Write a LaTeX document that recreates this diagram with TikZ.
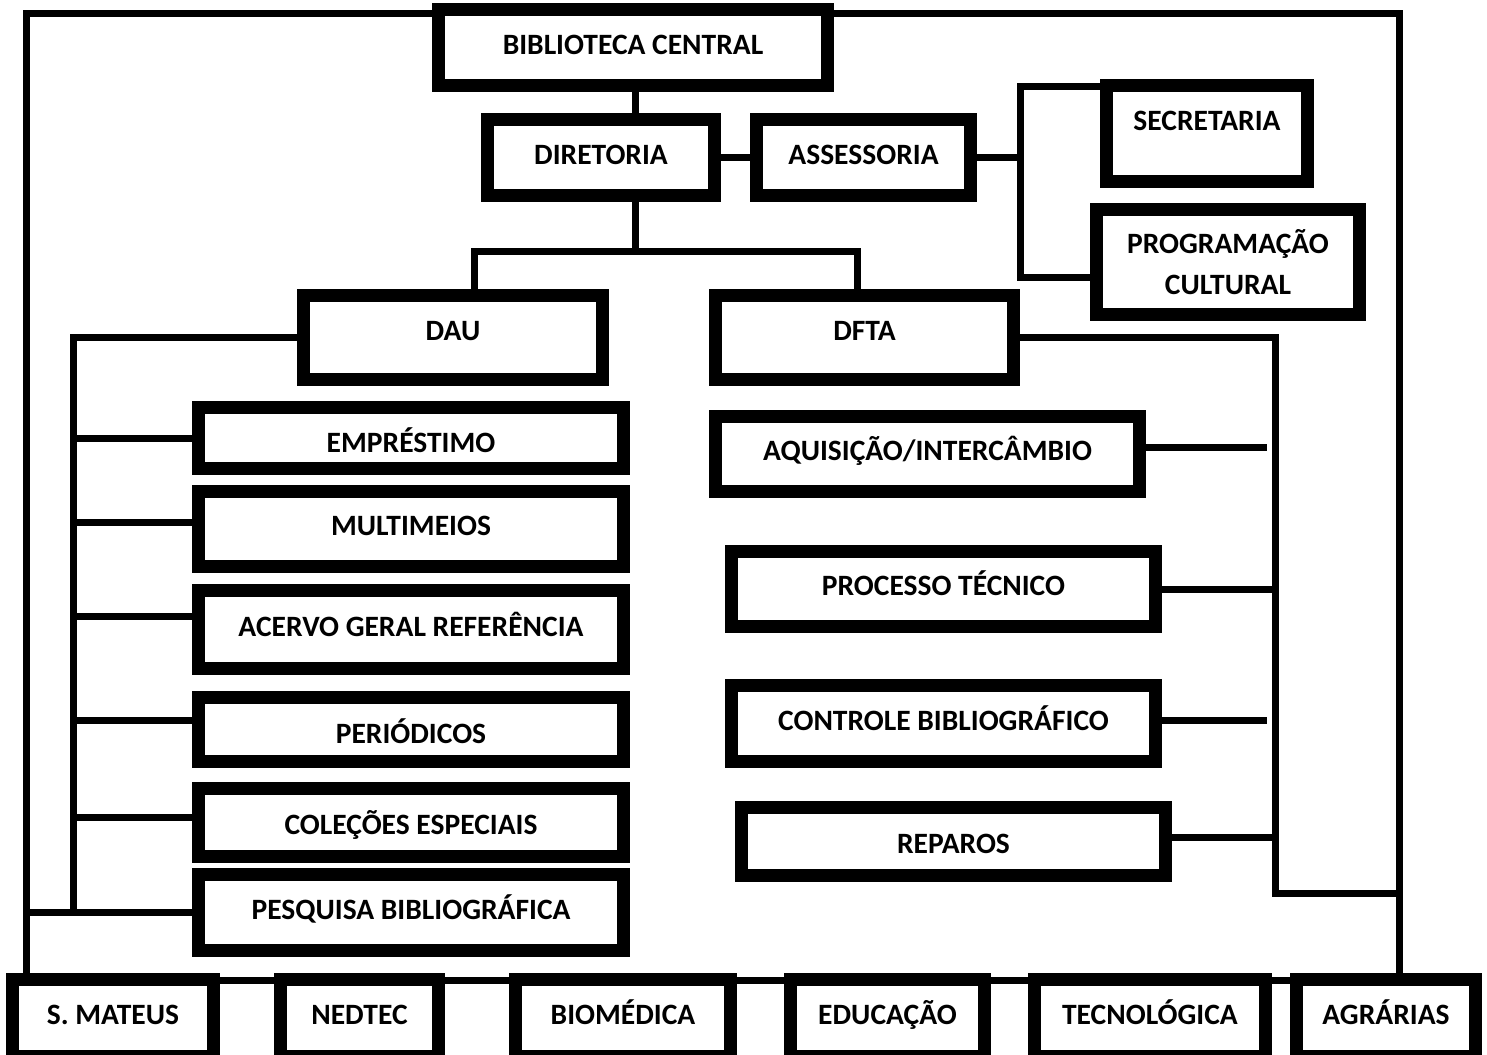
\documentclass[tikz,border=0pt]{standalone}
\usepackage{fontspec}
\setmainfont{Carlito}
\usetikzlibrary{calc}

\tikzset{
  unit/.style={draw, fill=white, line width=1.3mm, inner sep=0pt,
               text height=1.9mm, text depth=0.6mm},
  link/.style={line width=0.7mm},
}

\begin{document}
\begin{tikzpicture}[x=0.1mm, y=-0.1mm, font=\bfseries\fontsize{8.4}{11.6}\selectfont]
\useasboundingbox (0,0) rectangle (1487,1055);

% top of the chart
\node[unit, minimum width=38.9mm, minimum height=7.6mm] (bib) at (633,47.5) {BIBLIOTECA CENTRAL};
\node[unit, minimum width=22.7mm, minimum height=7.6mm] (dir) at (601,157.5) {DIRETORIA};
\node[unit, minimum width=21.4mm, minimum height=7.6mm] (ass) at (863.5,157.5) {ASSESSORIA};
\node[unit, minimum width=20.1mm, minimum height=9.6mm,
      label={[yshift=1.3mm]center:SECRETARIA}] (sec) at (1207,133.5) {};
\node[unit, minimum width=26.3mm, minimum height=10.5mm, align=center,
      text height=7.1mm] (prog) at (1228,262) {PROGRAMAÇÃO\\CULTURAL};

\node[unit, minimum width=29.9mm, minimum height=8.4mm, text depth=1.4mm] (dau) at (453,337.5) {DAU};
\node[unit, minimum width=29.8mm, minimum height=8.4mm, text depth=1.4mm] (dfta) at (864.5,337.5) {DFTA};

% DAU side
\node[unit, minimum width=42.5mm, minimum height=6.1mm, text height=3.5mm] (emp) at (411,438) {EMPRÉSTIMO};
\node[unit, minimum width=42.5mm, minimum height=7.5mm] (mul) at (411,529) {MULTIMEIOS};
\node[unit, minimum width=42.5mm, minimum height=7.8mm] (ace) at (411,629.5) {ACERVO GERAL REFERÊNCIA};
\node[unit, minimum width=42.5mm, minimum height=6.4mm, text height=3.3mm] (per) at (411,729.5) {PERIÓDICOS};
\node[unit, minimum width=42.5mm, minimum height=6.8mm, text height=2.9mm] (col) at (411,822.5) {COLEÇÕES ESPECIAIS};
\node[unit, minimum width=42.5mm, minimum height=7.6mm] (pes) at (411,912.5) {PESQUISA BIBLIOGRÁFICA};

% DFTA side
\node[unit, minimum width=42.4mm, minimum height=7.5mm] (aqu) at (927.5,454) {AQUISIÇÃO/INTERCÂMBIO};
\node[unit, minimum width=42.4mm, minimum height=7.5mm] (pro) at (943.5,589) {PROCESSO TÉCNICO};
\node[unit, minimum width=42.4mm, minimum height=7.6mm] (con) at (943.5,723.5) {CONTROLE BIBLIOGRÁFICO};
\node[unit, minimum width=42.4mm, minimum height=6.8mm, text height=2.9mm] (rep) at (953.5,841.5) {REPAROS};

% campus libraries
\node[unit, minimum width=20.1mm, minimum height=7.7mm] (smat) at (113,1018) {S. MATEUS};
\node[unit, minimum width=15.8mm, minimum height=7.7mm] (ned) at (359.5,1018) {NEDTEC};
\node[unit, minimum width=21.5mm, minimum height=7.7mm] (bio) at (623,1018) {BIOMÉDICA};
\node[unit, minimum width=19.4mm, minimum height=7.7mm] (edu) at (887.5,1018) {EDUCAÇÃO};
\node[unit, minimum width=23.1mm, minimum height=7.7mm] (tec) at (1150,1018) {TECNOLÓGICA};
\node[unit, minimum width=17.9mm, minimum height=7.7mm] (agr) at (1386,1018) {AGRÁRIAS};

% bus points
\coordinate (tl) at (26,13);
\coordinate (tr) at (1399.5,13);
\coordinate (split) at (635.5,251);
\coordinate (dauup) at (474,251);
\coordinate (dftaup) at (857,251);
\coordinate (lbus) at (73.5,341.5);
\coordinate (abus) at (1020.5,153);
\coordinate (rbus) at (1275.5,341.5);
\coordinate (rbend) at (1275.5,893.5);

% outer frame
\draw[link] (tl -| bib.west) -- (tl) -- (tl |- smat.north);
\draw[link] (tr -| bib.east) -- (tr) -- (tr |- agr.north);
\draw[link] ([yshift=-0.7mm]smat.north east) -- ([yshift=-0.7mm]agr.north west);

\draw[link] (bib.south -| split) -- (dir.north -| split);
\draw[link] (dir.east) -- (ass.west);
\draw[link] (dir.south -| split) -- (split);
\draw[link] (dauup |- dau.north) -- (dauup) -- (dftaup) -- (dftaup |- dfta.north);

% assessoria
\draw[link] (ass.east -| abus) -- (ass.east);
\draw[link] ([yshift=-0.7mm]sec.north west) -- ([yshift=-0.7mm]sec.north west -| abus)
  -- ([yshift=-1.5mm]prog.west -| abus) -- ([yshift=-1.5mm]prog.west);

% DAU bus
\draw[link] (dau.west) -- (dau.west -| lbus) -- (lbus |- pes.west);
\foreach \n/\dy in {emp/0mm, mul/0.65mm, ace/1.35mm, per/0.95mm, col/0.55mm}
  \draw[link] ([yshift=\dy]\n.west) -- ([yshift=\dy]\n.west -| lbus);
\draw[link] (pes.west) -- (pes.west -| tl);

% DFTA bus
\draw[link] (dfta.east) -- (dfta.east -| rbus) -- (rbend) -- (rbend -| tr);
\draw[link] ([yshift=0.65mm]aqu.east) -- ([yshift=0.65mm,xshift=-0.85mm]aqu.east -| rbus);
\draw[link] (pro.east) -- (pro.east -| rbus);
\draw[link] ([yshift=0.3mm]con.east) -- ([yshift=0.3mm,xshift=-0.85mm]con.east -| rbus);
\draw[link] ([yshift=0.45mm]rep.east) -- ([yshift=0.45mm]rep.east -| rbus);

\end{tikzpicture}
\end{document}
